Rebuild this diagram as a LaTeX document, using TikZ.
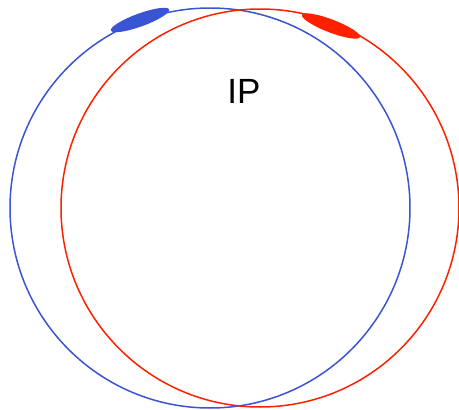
\documentclass[tikz,border=0pt]{standalone}
\usepackage{fontspec}
\setmainfont{Liberation Sans}
\definecolor{cblue}{HTML}{3A55D4}
\definecolor{cred}{HTML}{FF2000}
\begin{document}
\begin{tikzpicture}[x=1pt,y=-1pt,
  ring/.style={line width=1.5pt}]
\useasboundingbox (0,0) rectangle (459,410);
\coordinate (cb) at (210,208);
\coordinate (cr) at (260,208);
\draw[ring,cblue] (cb) circle[radius=200];
\draw[ring,cred] (cr) circle[radius=199];
\fill[cblue,rotate around={20:(140,20)}] (140,20) ellipse[x radius=31,y radius=6.5];
\fill[cred,rotate around={-21:(331,26)}] (331,26) ellipse[x radius=31,y radius=6.5];
\node[font=\fontsize{35}{40}\selectfont] (ip) at (244,91) {IP};
\end{tikzpicture}
\end{document}
